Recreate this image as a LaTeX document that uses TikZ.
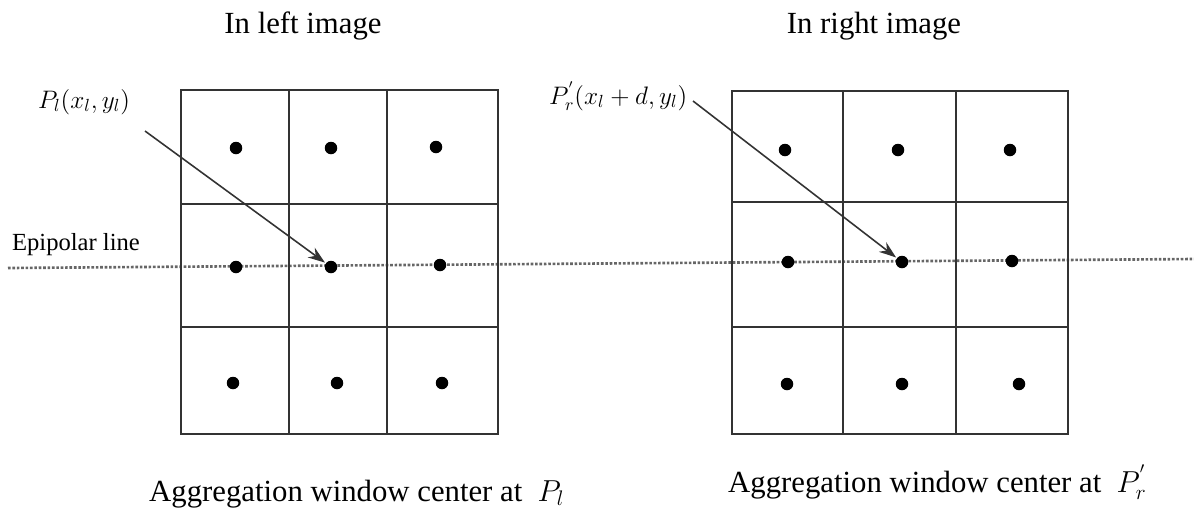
\documentclass[tikz,border=0pt]{standalone}
\usepackage{fontspec}
\setmainfont{Liberation Serif}
\usetikzlibrary{arrows.meta}

\tikzset{
  cellline/.style={line width=1.2pt, black!80},
  pixdot/.style={circle, fill=black, inner sep=0pt, minimum size=0.25cm},
  captext/.style={font=\fontsize{17.5}{20}\selectfont},
  ptlabel/.style={font=\fontsize{14}{16}\selectfont},
  pointer/.style={-{Stealth[length=0.34cm, width=0.24cm]}, line width=0.9pt, black!80, shorten >=0.5pt},
}

\begin{document}
\begin{tikzpicture}[x=0.02cm, y=-0.02cm]
    \useasboundingbox (0,0) rectangle (1194,512);
    % titles
    \node (ltitle) at (303,33) [captext, anchor=base] {In left image};
    \node (rtitle) at (874,33) [captext, anchor=base] {In right image};
    % epipolar line
    \coordinate (epl) at (8,268);
    \coordinate (epr) at (1194,259);
    \draw[densely dotted, line width=1.5pt, black!60] (epl) -- (epr);
    \node (eplabel) at (76,250) [font=\fontsize{14}{16}\selectfont, anchor=base] {Epipolar line};
    % left window
    \draw[cellline] (181,90) rectangle (498,434);
    \draw[cellline] (289,90) -- (289,434);
    \draw[cellline] (387,90) -- (387,434);
    \draw[cellline] (181,204) -- (498,204);
    \draw[cellline] (181,327) -- (498,327);
    % right window
    \draw[cellline] (732,91) rectangle (1068,434);
    \draw[cellline] (843,91) -- (843,434);
    \draw[cellline] (956,91) -- (956,434);
    \draw[cellline] (732,202) -- (1068,202);
    \draw[cellline] (732,327) -- (1068,327);
    % pixel centres
    \foreach \n/\x/\y in {la/236/148, lb/331/148, lc/436/147,
                          ld/236/267, le/331/267, lf/440/265,
                          lg/233/383, lh/337/383, li/442/383,
                          ra/785/150, rb/898/150, rc/1010/150,
                          rd/788/262, re/902/262, rf/1012/261,
                          rg/787/384, rh/902/384, ri/1019/384}
      \node[pixdot] (\n) at (\x,\y) {};
    % point labels
    \node (pl) at (32,108) [ptlabel, anchor=base west] {$P_l(x_l,y_l)$};
    \node (pr) at (543,104) [ptlabel, anchor=base west] {$P_r^{'}(x_l+d,y_l)$};
    \coordinate (plstart) at (145,131);
    \coordinate (prstart) at (693,101);
    \draw[pointer] (plstart) -- (le);
    \draw[pointer] (prstart) -- (re);
    % captions
    \node (lcap) at (143,501) [captext, anchor=base west] {Aggregation window center at \ $P_l$};
    \node (rcap) at (722,492) [captext, anchor=base west] {Aggregation window center at \ $P_r^{'}$};
\end{tikzpicture}
\end{document}
